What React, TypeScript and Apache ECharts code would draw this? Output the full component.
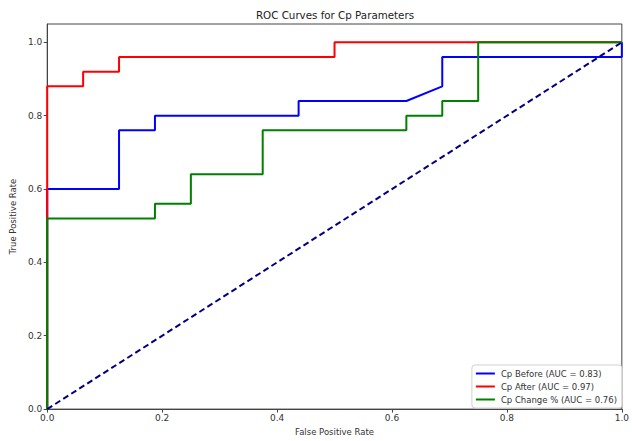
import React, { useEffect, useRef } from "react";
import * as echarts from "echarts";

const seriesNames = [
  "Cp Before (AUC = 0.83)",
  "Cp After (AUC = 0.97)",
  "Cp Change % (AUC = 0.76)",
];
const seriesColors = ["#0000ff", "#ff0000", "#008000"];

const beforeFpr = [0, 0, 0.125, 0.125, 0.1875, 0.1875, 0.4375, 0.4375, 0.625, 0.6875, 0.6875, 1, 1];
const beforeTpr = [0, 0.6, 0.6, 0.76, 0.76, 0.8, 0.8, 0.84, 0.84, 0.88, 0.96, 0.96, 1];

const afterFpr = [0, 0, 0.0625, 0.0625, 0.125, 0.125, 0.5, 0.5, 1];
const afterTpr = [0, 0.88, 0.88, 0.92, 0.92, 0.96, 0.96, 1, 1];

const changeFpr = [0, 0, 0.1875, 0.1875, 0.25, 0.25, 0.375, 0.375, 0.625, 0.625, 0.6875, 0.6875, 0.75, 0.75, 1];
const changeTpr = [0, 0.52, 0.52, 0.56, 0.56, 0.64, 0.64, 0.76, 0.76, 0.8, 0.8, 0.84, 0.84, 1, 1];

const diagonalX = [0, 1];
const diagonalY = [0, 1];

const tickValues = [0, 0.2, 0.4, 0.6, 0.8, 1.0];

const zip = (xs: number[], ys: number[]) => xs.map((x, i) => [x, ys[i]]);

export default function App() {
  const ref = useRef<HTMLDivElement>(null);
  useEffect(() => {
    if (!ref.current) return;
    const chart = echarts.init(ref.current, null, { renderer: "svg" });
    const font = "DejaVu Sans";
    const curves = [
      zip(beforeFpr, beforeTpr),
      zip(afterFpr, afterTpr),
      zip(changeFpr, changeTpr),
    ];
    const axisCommon = {
      axisLine: { show: true, onZero: false, lineStyle: { color: "#444", width: 1 } },
      axisTick: {
        show: true,
        inside: false,
        length: 3.5,
        lineStyle: { color: "#444" },
        customValues: tickValues,
      },
      axisLabel: {
        color: "#333",
        fontSize: 9,
        fontFamily: font,
        customValues: tickValues,
        formatter: (v: number) => v.toFixed(1),
      },
      splitLine: { show: false },
      nameLocation: "middle" as const,
      nameTextStyle: { color: "#333", fontSize: 8.5, fontFamily: font },
    };
    chart.setOption({
      animation: false,
      backgroundColor: "#ffffff",
      title: {
        text: "ROC Curves for Cp Parameters",
        left: 335,
        textAlign: "center",
        top: 10,
        padding: 0,
        textStyle: { fontSize: 10.3, fontWeight: "normal", color: "#222", fontFamily: font },
      },
      grid: {
        left: 43,
        right: 6,
        top: 24,
        bottom: 28,
        show: true,
        borderColor: "#444",
        borderWidth: 1,
        backgroundColor: "transparent",
      },
      xAxis: {
        type: "value",
        min: 0,
        max: 1,
        name: "False Positive Rate",
        nameGap: 17,
        ...axisCommon,
        axisLabel: { ...axisCommon.axisLabel, margin: 4 },
      },
      yAxis: {
        type: "value",
        min: 0,
        max: 1.05,
        name: "True Positive Rate",
        nameGap: 26,
        ...axisCommon,
        axisLabel: { ...axisCommon.axisLabel, margin: 5 },
      },
      legend: {
        data: seriesNames,
        orient: "vertical",
        right: 10,
        bottom: 33,
        icon: "rect",
        itemWidth: 19,
        itemHeight: 2,
        itemGap: 4,
        padding: [4, 5, 4, 4],
        backgroundColor: "rgba(255,255,255,0.85)",
        borderColor: "#d0d0d0",
        borderWidth: 1,
        borderRadius: 3,
        textStyle: { fontSize: 8.5, color: "#333", fontFamily: font, padding: [0, 0, 0, 1] },
      },
      series: [
        ...curves.map((d, i) => ({
          name: seriesNames[i],
          type: "line",
          data: d,
          showSymbol: false,
          symbol: "none",
          lineStyle: { color: seriesColors[i], width: 2 },
          itemStyle: { color: seriesColors[i] },
          z: 3,
        })),
        {
          name: "diagonal",
          type: "line",
          data: zip(diagonalX, diagonalY),
          showSymbol: false,
          symbol: "none",
          lineStyle: { color: "#000080", width: 2, type: [6, 3.5] },
          z: 4,
        },
      ],
    });
    return () => chart.dispose();
  }, []);
  return <div ref={ref} style={{ width: 632, height: 441, position: "absolute", left: 0, top: 0 }} />;
}
